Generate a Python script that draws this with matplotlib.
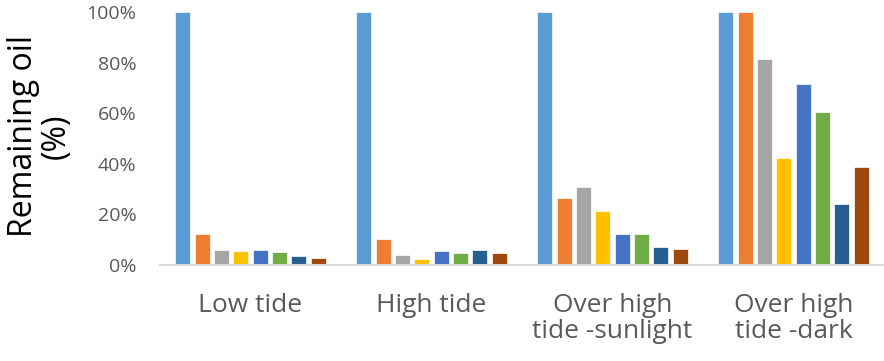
import numpy as np
import matplotlib
matplotlib.use("Agg")
import matplotlib.pyplot as plt
from matplotlib.ticker import PercentFormatter

plt.rcParams['font.family'] = ['Open Sans', 'DejaVu Sans']

categories = ["Low tide", "High tide", "Over high\ntide -sunlight", "Over high\ntide -dark"]

# remaining oil (%) per treatment, one list per series
series = [
    [100, 100, 100, 100],
    [12.4, 10.4, 26.6, 100],
    [6.0, 4.1, 30.9, 81.4],
    [5.5, 2.4, 21.5, 42.4],
    [5.9, 5.5, 12.4, 71.4],
    [5.3, 4.9, 12.4, 60.5],
    [3.7, 5.9, 7.0, 24.0],
    [2.8, 4.7, 6.4, 38.7],
]
colors = ["#5B9BD5", "#ED7D31", "#A5A5A5", "#FFC000",
          "#4472C4", "#70AD47", "#255E91", "#9E480E"]

fig = plt.figure(figsize=(8.84, 3.61), dpi=100)
ax = fig.add_axes([160 / 884, 96 / 361, 724 / 884, 253 / 361])

x = np.arange(len(categories))
n = len(series)
pitch = 0.1066
width = 0.083
for i, vals in enumerate(series):
    offs = (i - (n - 1) / 2) * pitch
    ax.bar(x + offs, vals, width=width, color=colors[i],
           edgecolor="white", linewidth=0.5, zorder=2)

ax.set_xlim(-0.5, len(categories) - 0.5)
ax.set_ylim(0, 100)
ax.set_yticks(np.arange(0, 101, 20))
ax.yaxis.set_major_formatter(PercentFormatter(decimals=0))
ax.set_xticks(x)
ax.set_xticklabels(categories, fontsize=19, color="#595959", linespacing=1.05)
ax.tick_params(axis="y", labelsize=14, colors="#595959", length=0, pad=17)
ax.tick_params(axis="x", length=0, pad=20)

for s in ["top", "right", "left"]:
    ax.spines[s].set_visible(False)
ax.spines["bottom"].set_color("#D9D9D9")
ax.spines["bottom"].set_linewidth(1.5)

fig.text(0.045, 0.623, "Remaining oil\n(%)", rotation=90, ha="center", va="center",
         fontsize=23, color="black", linespacing=1.0)

fig.savefig("out.png", dpi=100)
